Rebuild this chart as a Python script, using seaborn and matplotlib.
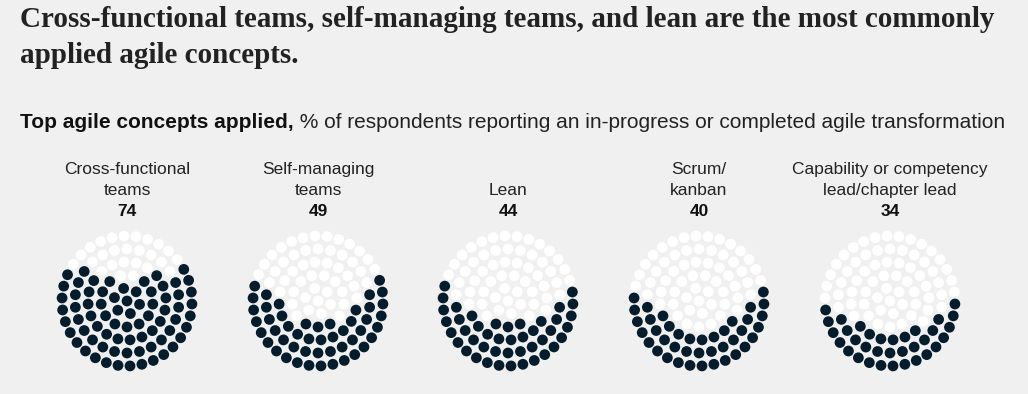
import numpy as np
import pandas as pd
import matplotlib
matplotlib.use("Agg")
import matplotlib.pyplot as plt
import seaborn as sns

# chart data
concepts = ["Cross-functional\nteams", "Self-managing\nteams", "Lean",
            "Scrum/\nkanban", "Capability or competency\nlead/chapter lead"]
values = [74, 49, 44, 40, 34]

title_lines = ["Cross-functional teams, self-managing teams, and lean are the most commonly",
               "applied agile concepts."]
sub_bold = "Top agile concepts applied,"
sub_rest = " % of respondents reporting an in-progress or completed agile transformation"

BG = "#f0f0f0"
NAVY = "#051c2c"

# dot layout: concentric rings, 100 dots per circle
ring_counts = [1, 6, 13, 20, 26, 34]
ring_step = 13.0


def dot_layout():
    xs, ys = [], []
    for k, n in enumerate(ring_counts):
        r = k * ring_step
        off = 0.5 * np.pi / n * (k % 2)
        for j in range(n):
            a = -np.pi / 2 + off + 2 * np.pi * j / n
            xs.append(r * np.cos(a))
            ys.append(r * np.sin(a))
    return np.round(np.array(xs), 6), np.round(np.array(ys), 6)


def fill_rank(xs, ys, pct):
    # fill from the bottom; for smaller shares the rim runs ahead (U shape)
    R = ring_step * (len(ring_counts) - 1)
    yn, rn = ys / R, np.hypot(xs, ys) / R
    bend = np.clip(3.3 * (0.8 - pct / 100), 0.15, 1.0)
    key = np.round(yn - bend * rn, 6)
    order = np.lexsort((xs, key))
    rank = np.empty(len(xs), int)
    rank[order] = np.arange(len(xs))
    return rank


dx, dy = dot_layout()

centers_x = [127, 318, 508, 699, 890]
center_y = 301

rows = []
for i, (name, v) in enumerate(zip(concepts, values)):
    rank = fill_rank(dx, dy, v)
    for x, y, rk in zip(dx, dy, rank):
        rows.append({"concept": name, "x": centers_x[i] + x, "y": center_y - y,
                     "state": "applied" if rk < v else "not"})
df = pd.DataFrame(rows)

sns.set_style("white")
plt.rcParams["font.family"] = ["Liberation Sans", "DejaVu Sans"]

fig = plt.figure(figsize=(10.28, 3.94), dpi=100, facecolor=BG)
ax = fig.add_axes([0, 0, 1, 1])
ax.set_facecolor(BG)

sns.scatterplot(data=df, x="x", y="y", hue="state",
                palette={"applied": NAVY, "not": "white"},
                s=60, linewidth=0, legend=False, ax=ax)

ax.set_xlim(0, 1028)
ax.set_ylim(394, 0)
ax.axis("off")

# title, sized so the first line spans the same width as in the original
fig.canvas.draw()
t = ax.text(20, 27, title_lines[0], fontsize=20, fontweight="bold",
            family=["Liberation Serif"], color="#222222", va="baseline")
fig.canvas.draw()
w = t.get_window_extent().width
tsize = 20 * 973 / w
t.set_fontsize(tsize)
ax.text(20, 63, title_lines[1], fontsize=tsize, fontweight="bold",
        family=["Liberation Serif"], color="#222222", va="baseline")

t1 = ax.text(20, 128, sub_bold, fontsize=15, fontweight="bold",
             color="#111111", va="baseline", ha="left")
fig.canvas.draw()
bb = t1.get_window_extent()
x_end = ax.transData.inverted().transform((bb.x1, bb.y0))[0]
ax.text(x_end, 128, sub_rest, fontsize=15, color="#222222",
        va="baseline", ha="left")

for cx, name, v in zip(centers_x, concepts, values):
    lines = name.split("\n")
    for j, line in enumerate(reversed(lines)):
        ax.text(cx, 195 - 21 * j, line, fontsize=12.5, color="#222222",
                ha="center", va="baseline")
    ax.text(cx, 216, str(v), fontsize=12.5, fontweight="bold", color="#111111",
            ha="center", va="baseline")

fig.savefig("out.png", dpi=100, facecolor=BG)
